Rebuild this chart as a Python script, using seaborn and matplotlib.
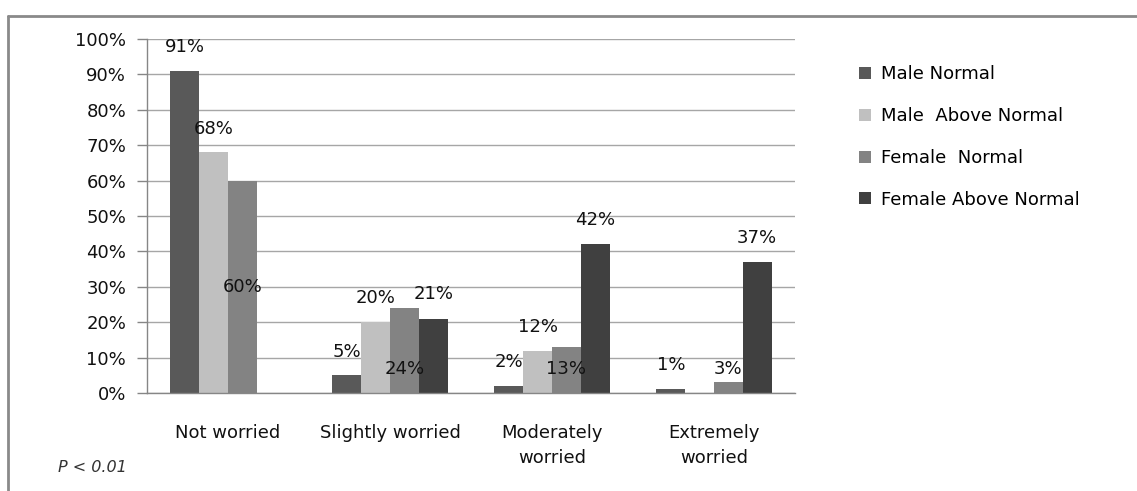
import matplotlib
matplotlib.use("Agg")
import matplotlib.pyplot as plt
import seaborn as sns
import pandas as pd
import numpy as np
from matplotlib.lines import Line2D
from matplotlib.patches import Patch

categories = ["Not worried", "Slightly worried", "Moderately\nworried", "Extremely\nworried"]
series = ["Male Normal", "Male  Above Normal", "Female  Normal", "Female Above Normal"]
male_normal = [91, 5, 2, 1]
male_above_normal = [68, 20, 12, 0]
female_normal = [60, 24, 13, 3]
female_above_normal = [0, 21, 42, 37]
y_ticks = [0, 10, 20, 30, 40, 50, 60, 70, 80, 90, 100]
note = "P < 0.01"

values = [male_normal, male_above_normal, female_normal, female_above_normal]
rows = []
for s, vals in zip(series, values):
    for c, v in zip(categories, vals):
        rows.append({"category": c, "series": s, "value": v})
df = pd.DataFrame(rows)

colors = ["#595959", "#c0c0c0", "#838383", "#404040"]

# label vertical offsets (in % units) relative to the bar top, None = no label
label_offsets = [
    [6.7, 6.6, 6.8, 6.9],
    [6.6, 6.8, 6.6, None],
    [-30, -17.2, -6.2, 3.8],
    [None, 7.0, 6.9, 6.8],
]

sns.set_theme(style="white")
plt.rcParams["font.family"] = ["DejaVu Sans"]

fig = plt.figure(figsize=(11.37, 4.91), dpi=100)
ax = fig.add_axes([147 / 1137, 98 / 491, 648 / 1137, 354 / 491])

sns.barplot(data=df, x="category", y="value", hue="series", palette=colors,
            width=0.71, saturation=1, ax=ax, legend=False, edgecolor="none", linewidth=0)

ax.set_ylim(0, 100)
ax.set_xlim(-0.5, len(categories) - 0.5)
ax.set_yticks(y_ticks)
ax.set_yticklabels([f"{t}%" for t in y_ticks], fontsize=13, color="#111111")
ax.yaxis.grid(True, color="#a6a6a6", linewidth=1)
ax.set_axisbelow(True)
ax.set_xlabel("")
ax.set_ylabel("")
ax.set_xticks(range(len(categories)))
ax.set_xticklabels(categories, fontsize=13, color="#111111", linespacing=1.55)
ax.set_xticks(np.arange(-0.5, len(categories)), minor=True)
ax.tick_params(axis="x", which="major", length=0, pad=22)
ax.tick_params(axis="x", which="minor", length=7, width=1, color="#868686", direction="out")
ax.tick_params(axis="y", length=7, width=1, color="#868686", direction="out", left=True, pad=8)
for side in ["top", "right"]:
    ax.spines[side].set_visible(False)
for side in ["left", "bottom"]:
    ax.spines[side].set_color("#868686")
    ax.spines[side].set_linewidth(1)

for h, cont in enumerate(ax.containers):
    for i, bar in enumerate(cont):
        off = label_offsets[h][i]
        if off is None:
            continue
        x = bar.get_x() + bar.get_width() / 2
        v = values[h][i]
        ax.text(x, v + off, f"{v}%", ha="center", va="center", fontsize=13, color="#111111")

handles = [Patch(facecolor=c, edgecolor="none") for c in colors]
fig.legend(handles, series, loc="upper left", bbox_to_anchor=(843 / 1137, 1 - 49 / 491),
           frameon=False, handlelength=0.65, handleheight=0.65,
           handletextpad=0.55, labelspacing=1.32, prop={"size": 13}, labelcolor="#000000")

fig.text(58 / 1137, 1 - 467 / 491, note, fontsize=11.5, style="italic", color="#333333",
         va="center", ha="left")

fig.add_artist(Line2D([8 / 1137, 1], [1 - 16 / 491, 1 - 16 / 491], color="#8a8a8a", linewidth=2,
                      transform=fig.transFigure))
fig.add_artist(Line2D([8 / 1137, 8 / 1137], [0, 1 - 16 / 491], color="#8a8a8a", linewidth=2,
                      transform=fig.transFigure))

fig.savefig("out.png", dpi=100)
